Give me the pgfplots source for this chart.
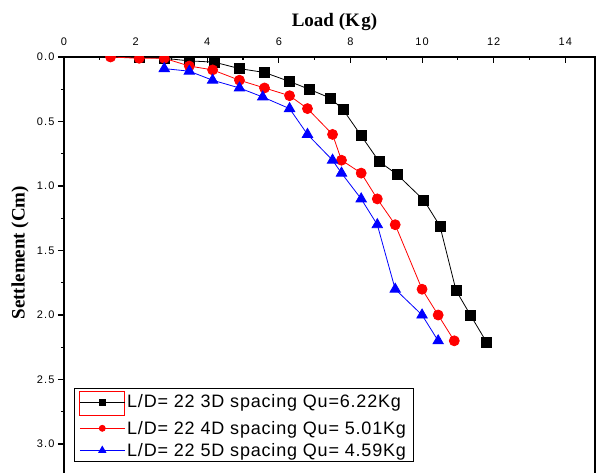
\documentclass[border=0pt]{standalone}
\usepackage{fontspec}
\setmainfont{Liberation Sans}
\newfontfamily\labfont{Liberation Serif}
\newfontfamily\legfont[LetterSpace=4.5]{Liberation Sans}
\newfontfamily\tickfont[LetterSpace=10]{Liberation Sans}
\usepackage{pgfplots}
\pgfplotsset{compat=1.18}
\begin{document}
\begin{tikzpicture}
\begin{axis}[
  scale only axis,
  width=531pt, height=418pt,
  xmin=0, xmax=14.83,
  ymin=0, ymax=3.24,
  y dir=reverse,
  clip marker paths=true,
  xtick={0,2,...,14},
  minor x tick num=1,
  ytick={0,0.5,...,3.0},
  minor y tick num=1,
  xtick pos=right, xticklabel pos=right,
  ytick pos=left, yticklabel pos=left,
  xtick align=inside, ytick align=outside,
  major tick length=6pt, minor tick length=3pt,
  every tick/.style={black, line width=1.1pt},
  axis line style={line width=1.6pt},
  /pgf/number format/assume math mode=true,
  tick label style={font=\tickfont\fontsize{11}{13}\selectfont},
  x tick label style={yshift=8pt},
  yticklabel style={/pgf/number format/.cd, fixed, fixed zerofill, precision=1},
  xlabel={\labfont\bfseries Load (K\kern1.5pt g)},
  ylabel={\labfont\bfseries Settlement (Cm)},
  xlabel style={font=\fontsize{19}{22}\selectfont, at={(axis description cs:0.5,1)}, anchor=base, yshift=30pt, xshift=5pt},
  ylabel style={font=\fontsize{19}{22}\selectfont, at={(axis description cs:-0.0829,0.532)}, anchor=center},
  legend cell align=left,
  legend style={at={(axis description cs:0.0188,0.031)}, anchor=south west,
    draw=black, line width=0.8pt, font=\legfont\fontsize{18}{21}\selectfont,
    row sep=3.5pt, inner xsep=5pt, inner ysep=2pt},
  legend image code/.code={\draw[mark repeat=2,mark phase=2,line width=0.8pt] plot coordinates {(0pt,0pt)(22.5pt,0pt)(45pt,0pt)};},
]
\coordinate (TL) at (rel axis cs:0,1);
\addplot[black, line width=0.8pt, mark=square*, mark size=5pt, mark options={solid},
  legend image code/.code={\draw[red, line width=0.8pt] (0pt,-13pt) rectangle (45pt,11pt);
  \draw[mark repeat=2,mark phase=2,line width=0.8pt, mark size=3pt] plot coordinates {(0pt,0pt)(22.5pt,0pt)(45pt,0pt)};}]
coordinates {(2.1,0)(2.8,0.01)(3.5,0.03)(4.2,0.04)(4.9,0.09)(5.6,0.12)(6.3,0.19)(6.85,0.25)(7.45,0.32)(7.8,0.41)(8.3,0.61)(8.8,0.81)(9.3,0.91)(10.05,1.11)(10.5,1.31)(10.95,1.81)(11.35,2.0)(11.8,2.21)};
\addlegendentry{L/D= 22 3D spacing Qu=6.22Kg}
\addplot[red, line width=0.8pt, mark=*, mark size=5pt,
  legend image code/.code={\draw[mark repeat=2,mark phase=2,line width=0.8pt, mark size=3pt] plot coordinates {(0pt,0pt)(22.5pt,0pt)(45pt,0pt)};}]
coordinates {(1.3,0)(2.1,0.01)(2.8,0.01)(3.5,0.07)(4.15,0.1)(4.9,0.18)(5.6,0.24)(6.3,0.3)(6.8,0.4)(7.5,0.6)(7.75,0.8)(8.3,0.9)(8.75,1.1)(9.25,1.3)(10.0,1.8)(10.45,2.0)(10.9,2.2)};
\addlegendentry{L/D= 22 4D spacing Qu= 5.01Kg}
\addplot[blue, line width=0.8pt, mark=triangle*, mark size=6pt,
  legend image code/.code={\draw[mark repeat=2,mark phase=2,line width=0.8pt, mark size=4pt] plot coordinates {(0pt,0pt)(22.5pt,0pt)(45pt,0pt)};}]
coordinates {(2.8,0.09)(3.5,0.11)(4.15,0.18)(4.9,0.24)(5.55,0.31)(6.3,0.4)(6.8,0.6)(7.5,0.8)(7.75,0.9)(8.3,1.1)(8.75,1.3)(9.25,1.8)(10.0,2.0)(10.45,2.2)};
\addlegendentry{L/D= 22 5D spacing Qu= 4.59Kg}
\end{axis}
\pgfresetboundingbox
\path (TL) ++(-64pt,57pt) rectangle ++(598pt,-473pt);
\end{tikzpicture}
\end{document}
